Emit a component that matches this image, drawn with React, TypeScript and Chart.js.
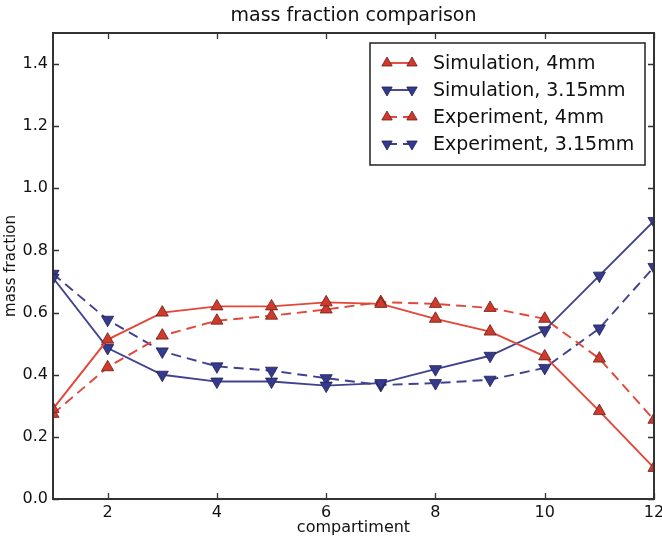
import React, { useEffect, useRef } from "react";
import { Chart, registerables } from "chart.js";

Chart.register(...registerables);

const compartments = [1, 2, 3, 4, 5, 6, 7, 8, 9, 10, 11, 12];
const sim4mm = [0.29, 0.513, 0.6, 0.62, 0.62, 0.633, 0.628, 0.58, 0.539, 0.459, 0.283, 0.1];
const sim315mm = [0.712, 0.486, 0.4, 0.378, 0.378, 0.365, 0.373, 0.418, 0.461, 0.543, 0.719, 0.895];
const exp4mm = [0.274, 0.424, 0.526, 0.574, 0.59, 0.61, 0.634, 0.628, 0.615, 0.58, 0.452, 0.255];
const exp315mm = [0.725, 0.577, 0.475, 0.427, 0.413, 0.389, 0.367, 0.373, 0.384, 0.422, 0.549, 0.747];
const xTicks = [2, 4, 6, 8, 10, 12];
const yTicks = [0, 0.2, 0.4, 0.6, 0.8, 1.0, 1.2, 1.4];
const chartTitle = "mass fraction comparison";

const RED_LINE = "#e2473a";
const RED_FILL = "#cf3a2c";
const RED_EDGE = "#6a1e14";
const BLUE_LINE = "#41428f";
const BLUE_FILL = "#353a8c";
const BLUE_EDGE = "#1c1f55";
const FONT = "'DejaVu Sans', sans-serif";

function drawTri(ctx: CanvasRenderingContext2D, x: number, y: number, r: number, down: boolean, fill: string, edge: string) {
  ctx.save();
  ctx.beginPath();
  const s = down ? -1 : 1;
  ctx.moveTo(x, y - s * r);
  ctx.lineTo(x + r * Math.sin((2 * Math.PI) / 3), y - s * r * Math.cos((2 * Math.PI) / 3));
  ctx.lineTo(x - r * Math.sin((2 * Math.PI) / 3), y - s * r * Math.cos((2 * Math.PI) / 3));
  ctx.closePath();
  ctx.fillStyle = fill;
  ctx.fill();
  ctx.strokeStyle = edge;
  ctx.lineWidth = 0.8;
  ctx.setLineDash([]);
  ctx.stroke();
  ctx.restore();
}

const framePlugin = {
  id: "frameTicks",
  afterDatasetsDraw(chart: any) {
    const { ctx, chartArea } = chart;
    const { left, right, top, bottom } = chartArea;
    const xs = chart.scales.x;
    const ys = chart.scales.y;
    ctx.save();
    ctx.strokeStyle = "#333333";
    ctx.lineWidth = 1.3;
    ctx.setLineDash([]);
    const tl = 6;
    xTicks.forEach((v) => {
      const px = Math.round(xs.getPixelForValue(v)) + 0.5;
      ctx.beginPath();
      ctx.moveTo(px, bottom);
      ctx.lineTo(px, bottom - tl);
      ctx.moveTo(px, top);
      ctx.lineTo(px, top + tl);
      ctx.stroke();
    });
    yTicks.forEach((v) => {
      const py = Math.round(ys.getPixelForValue(v)) + 0.5;
      ctx.beginPath();
      ctx.moveTo(left, py);
      ctx.lineTo(left + tl, py);
      ctx.moveTo(right, py);
      ctx.lineTo(right - tl, py);
      ctx.stroke();
    });
    ctx.lineWidth = 2;
    ctx.strokeRect(left, top, right - left, bottom - top);
    ctx.fillStyle = "#111111";
    ctx.font = `19px ${FONT}`;
    ctx.textAlign = "center";
    ctx.textBaseline = "middle";
    ctx.fillText(chartTitle, (left + right) / 2, top - 17);
    ctx.restore();
  },
};

const legendPlugin = {
  id: "boxLegend",
  afterDraw(chart: any) {
    const { ctx, chartArea } = chart;
    const boxRight = chartArea.right - 9;
    const boxLeft = boxRight - 275;
    const boxTop = chartArea.top + 10;
    const boxBottom = boxTop + 122;
    ctx.save();
    ctx.fillStyle = "#ffffff";
    ctx.fillRect(boxLeft, boxTop, boxRight - boxLeft, boxBottom - boxTop);
    ctx.strokeStyle = "#222222";
    ctx.lineWidth = 1.5;
    ctx.strokeRect(boxLeft, boxTop, boxRight - boxLeft, boxBottom - boxTop);
    chart.data.datasets.forEach((ds: any, i: number) => {
      const y = boxTop + 20 + i * 27;
      const x0 = boxLeft + 17;
      const x1 = boxLeft + 42;
      ctx.beginPath();
      ctx.strokeStyle = ds.borderColor;
      ctx.lineWidth = ds.borderWidth;
      ctx.setLineDash(ds.borderDash || []);
      ctx.moveTo(x0, y);
      ctx.lineTo(x1, y);
      ctx.stroke();
      ctx.setLineDash([]);
      const down = ds.pointRotation === 180;
      drawTri(ctx, x0, y, 6, down, ds.pointBackgroundColor, ds.pointBorderColor);
      drawTri(ctx, x1, y, 6, down, ds.pointBackgroundColor, ds.pointBorderColor);
      ctx.fillStyle = "#111111";
      ctx.font = `19px ${FONT}`;
      ctx.textBaseline = "middle";
      ctx.textAlign = "left";
      ctx.fillText(ds.label, boxLeft + 63, y + 1);
    });
    ctx.restore();
  },
};

function makeDataset(label: string, values: number[], line: string, fill: string, edge: string, dashed: boolean, down: boolean) {
  return {
    label,
    data: compartments.map((c, i) => ({ x: c, y: values[i] })),
    borderColor: line,
    borderWidth: 1.9,
    borderDash: dashed ? [10, 6] : [],
    pointStyle: "triangle",
    pointRotation: down ? 180 : 0,
    pointRadius: 7,
    pointBackgroundColor: fill,
    pointBorderColor: edge,
    pointBorderWidth: 0.8,
    tension: 0,
    clip: 0,
  };
}

export default function App() {
  const ref = useRef<HTMLCanvasElement | null>(null);
  useEffect(() => {
    document.body.style.margin = "0";
    const canvas = ref.current;
    if (!canvas) return;
    const chart = new Chart(canvas, {
      type: "line",
      data: {
        datasets: [
          makeDataset("Simulation, 4mm", sim4mm, RED_LINE, RED_FILL, RED_EDGE, false, false),
          makeDataset("Simulation, 3.15mm", sim315mm, BLUE_LINE, BLUE_FILL, BLUE_EDGE, false, true),
          makeDataset("Experiment, 4mm", exp4mm, RED_LINE, RED_FILL, RED_EDGE, true, false),
          makeDataset("Experiment, 3.15mm", exp315mm, BLUE_LINE, BLUE_FILL, BLUE_EDGE, true, true),
        ] as any,
      },
      options: {
        animation: false,
        responsive: false,
        maintainAspectRatio: false,
        layout: { padding: { left: 0, right: 8, top: 33, bottom: 0 } },
        plugins: {
          legend: { display: false },
          tooltip: { enabled: false },
          title: { display: false },
        },
        scales: {
          x: {
            type: "linear",
            min: 1,
            max: 12,
            grid: { display: false, drawTicks: false },
            border: { display: false },
            afterBuildTicks: (scale: any) => {
              scale.ticks = xTicks.map((v) => ({ value: v }));
            },
            afterFit: (scale: any) => {
              scale.height = 39;
              scale.paddingLeft = 0;
              scale.paddingRight = 0;
            },
            ticks: {
              padding: 4,
              color: "#111111",
              font: { family: FONT, size: 16 },
              maxRotation: 0,
              callback: (v: any) => String(v),
            },
            title: {
              display: true,
              text: "compartiment",
              color: "#111111",
              font: { family: FONT, size: 16 },
              padding: { top: 0, bottom: 1 },
            },
          },
          y: {
            type: "linear",
            min: 0,
            max: 1.5,
            grid: { display: false, drawTicks: false },
            border: { display: false },
            afterBuildTicks: (scale: any) => {
              scale.ticks = yTicks.map((v) => ({ value: v }));
            },
            afterFit: (scale: any) => {
              scale.width = 53;
              scale.paddingTop = 0;
              scale.paddingBottom = 0;
            },
            ticks: {
              padding: 5,
              color: "#111111",
              font: { family: FONT, size: 16 },
              callback: (v: any) => Number(v).toFixed(1),
            },
            title: {
              display: true,
              text: "mass fraction",
              color: "#111111",
              font: { family: FONT, size: 15 },
              padding: { top: 2, bottom: 0 },
            },
          },
        },
      },
      plugins: [framePlugin, legendPlugin],
    });
    return () => chart.destroy();
  }, []);
  return (
    <div style={{ position: "absolute", left: 0, top: 0, width: 662, height: 538, background: "#fff" }}>
      <canvas ref={ref} width={662} height={538} style={{ width: 662, height: 538 }} />
    </div>
  );
}
